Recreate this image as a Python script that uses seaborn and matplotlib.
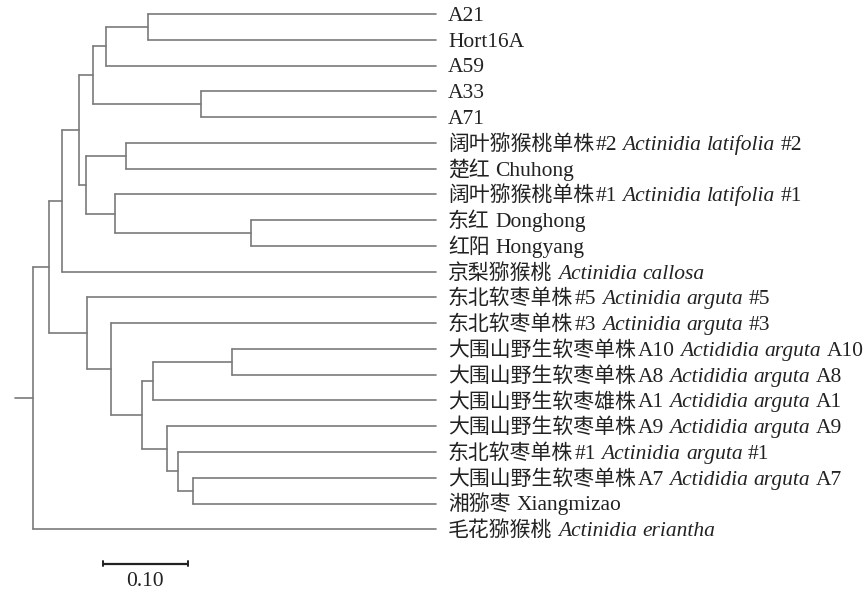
import matplotlib
matplotlib.use("Agg")
import matplotlib.pyplot as plt
from matplotlib.transforms import IdentityTransform
import pandas as pd
import seaborn as sns

# Leaf labels: upright part, italic species name, upright suffix
leaf_upright = [
    "A21", "Hort16A", "A59", "A33", "A71",
    "阔叶猕猴桃单株#2", "楚红 Chuhong", "阔叶猕猴桃单株#1", "东红 Donghong", "红阳 Hongyang",
    "京梨猕猴桃",
    "东北软枣单株#5", "东北软枣单株#3",
    "大围山野生软枣单株A10", "大围山野生软枣单株A8", "大围山野生软枣雄株A1",
    "大围山野生软枣单株A9", "东北软枣单株#1", "大围山野生软枣单株A7",
    "湘猕枣 Xiangmizao", "毛花猕猴桃",
]
leaf_italic = [
    "", "", "", "", "",
    "Actinidia latifolia", "", "Actinidia latifolia", "", "",
    "Actinidia callosa",
    "Actinidia arguta", "Actinidia arguta",
    "Actididia arguta", "Actididia arguta", "Actididia arguta",
    "Actididia arguta", "Actinidia arguta", "Actididia arguta",
    "", "Actinidia eriantha",
]
leaf_suffix = [
    "", "", "", "", "",
    "#2", "", "#1", "", "",
    "",
    "#5", "#3",
    "A10", "A8", "A1",
    "A9", "#1", "A7",
    "", "",
]

# Clustering: node k (numbered after the 21 leaves) joins two children at a height
merge_left = [0, 21, 3, 22, 5, 8, 7, 25, 24, 29, 13, 31, 18, 17, 16, 32, 12, 11, 30, 39]
merge_right = [1, 2, 4, 23, 6, 9, 26, 27, 28, 10, 14, 15, 19, 33, 34, 35, 36, 37, 38, 20]
merge_height = [0.339, 0.388, 0.276, 0.404, 0.365, 0.218, 0.378, 0.412, 0.420, 0.440,
                0.240, 0.333, 0.286, 0.303, 0.316, 0.3455, 0.382, 0.410, 0.455, 0.474]
root_height = 0.495
scale_length = 0.10
scale_label = "0.10"

n_leaf = len(leaf_upright)
node_y = {i: float(i) for i in range(n_leaf)}
node_h = {i: 0.0 for i in range(n_leaf)}
parent = {}
for k, (a, b, h) in enumerate(zip(merge_left, merge_right, merge_height)):
    nid = n_leaf + k
    node_y[nid] = (node_y[a] + node_y[b]) / 2
    node_h[nid] = h
    parent[a] = nid
    parent[b] = nid
root = n_leaf + len(merge_height) - 1

# Build the branch segments as a tidy table
rows = []
seg = 0
def add_seg(x0, y0, x1, y1):
    global seg
    rows.append({"x": x0, "y": y0, "seg": seg})
    rows.append({"x": x1, "y": y1, "seg": seg})
    seg += 1

for nid in node_y:
    top = root_height if nid == root else node_h[parent[nid]]
    add_seg(node_h[nid], node_y[nid], top, node_y[nid])
for k, (a, b) in enumerate(zip(merge_left, merge_right)):
    nid = n_leaf + k
    add_seg(node_h[nid], node_y[a], node_h[nid], node_y[b])
branches = pd.DataFrame(rows)

sns.set_theme(style="white")
fig = plt.figure(figsize=(8.67, 5.95), dpi=100)
ax = fig.add_axes([0, 0, 1, 1])
sns.lineplot(data=branches, x="x", y="y", units="seg", estimator=None, sort=False,
             color="#7a7a7a", linewidth=1.2, ax=ax, legend=False)
ax.set_xlim(0.5129, -0.5071)
ax.set_ylim(22.55, -0.543)
ax.axis("off")

TEXT_COLOR = "#222222"
LATIN_SIZE = 15.5
CJK_SIZE = 15.0
SPACE_PX = 5.5
JOIN_PX = 1.5

# Scale bar
bar_y = 21.33
bar_x0 = 0.392
bar_x1 = bar_x0 - scale_length
ax.plot([bar_x0, bar_x1], [bar_y, bar_y], color="#222222", lw=1.6, solid_capstyle="butt")
for bx in (bar_x0, bar_x1):
    ax.plot([bx, bx], [bar_y - 0.1, bar_y + 0.1], color="#222222", lw=1.4)
ax.text((bar_x0 + bar_x1) / 2, 22.02, scale_label, ha="center", va="center",
        family="Liberation Serif", fontsize=LATIN_SIZE, color="#222222")

# Leaf labels, drawn run by run so Chinese, roman and italic text sit side by side
fig.canvas.draw()
renderer = fig.canvas.get_renderer()


def is_cjk(ch):
    return ord(ch) >= 0x2E80


def split_runs(text):
    runs = []
    for ch in text:
        kind = is_cjk(ch)
        if runs and runs[-1][1] == kind:
            runs[-1][0] += ch
        else:
            runs.append([ch, kind])
    return runs


def put(xpix, ypix, text, cjk, italic):
    if cjk:
        t = ax.text(xpix, ypix, text, transform=IdentityTransform(), ha="left",
                    va="baseline", family="Noto Sans CJK SC", fontsize=CJK_SIZE,
                    color=TEXT_COLOR, weight="light")
    else:
        t = ax.text(xpix, ypix, text, transform=IdentityTransform(), ha="left",
                    va="baseline", family="Liberation Serif", fontsize=LATIN_SIZE,
                    style="italic" if italic else "normal", color=TEXT_COLOR)
    return t.get_window_extent(renderer).width


label_x = -0.0141
baseline_shift = 0.27
for i in range(n_leaf):
    xpix, ypix = ax.transData.transform((label_x, i + baseline_shift))
    parts = [(leaf_upright[i], False), (leaf_italic[i], True), (leaf_suffix[i], False)]
    parts = [p for p in parts if p[0]]
    first_word = True
    for text, italic in parts:
        for word in text.split(" "):
            if not first_word:
                xpix += SPACE_PX
            first_word = False
            for j, (run, cjk) in enumerate(split_runs(word)):
                if j > 0:
                    xpix += JOIN_PX
                xpix += put(xpix, ypix, run, cjk, italic)

fig.savefig("out.png", dpi=100)
